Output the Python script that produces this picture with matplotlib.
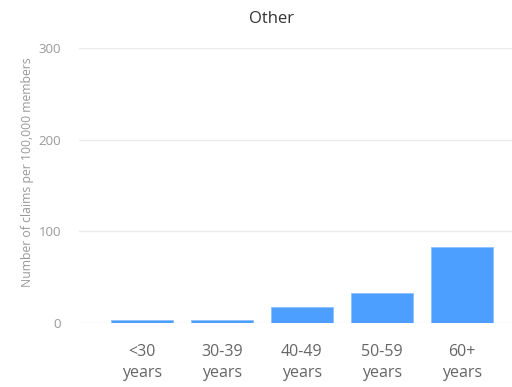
import matplotlib
matplotlib.use("Agg")
import matplotlib.pyplot as plt

categories = ["<30\nyears", "30-39\nyears", "40-49\nyears", "50-59\nyears", "60+\nyears"]
values = [3, 3, 18, 33, 83]
yticks = [0, 100, 200, 300]

plt.rcParams['font.family'] = ['Open Sans', 'DejaVu Sans']

fig = plt.figure(figsize=(5.12, 3.87), dpi=100)
ax = fig.add_axes([79/512, (387-323)/387, 1 - 79/512, (323-48)/387])

x = list(range(len(categories)))
ax.bar(x, values, width=0.775, color="#4C9EFF", edgecolor="#8CC0FF", linewidth=0.6, zorder=3)
ax.set_xlim(-0.79, 4.63)
ax.set_ylim(0, 300)
ax.set_yticks(yticks)
ax.set_yticklabels([str(t) for t in yticks])
ax.set_xticks(x)
ax.set_xticklabels(categories, linespacing=1.45)
ax.yaxis.grid(True, color="#EBEBEB", linewidth=1.0, zorder=0)
ax.set_axisbelow(True)
for s in ax.spines.values():
    s.set_visible(False)
ax.tick_params(axis='y', length=0, pad=13, labelsize=9.5, labelcolor="#999999")
ax.tick_params(axis='x', length=0, pad=15, labelsize=11.5, labelcolor="#666666")
ax.set_ylabel("Number of claims per 100,000 members", fontsize=8.8, color="#999999")
ax.yaxis.set_label_coords(-79/512 + 22/433, (323-172)/275)
fig.text(271/512, 1 - 19/387, "Other", ha="center", va="center", fontsize=12, color="#333333")
fig.savefig("out.png", dpi=100)
